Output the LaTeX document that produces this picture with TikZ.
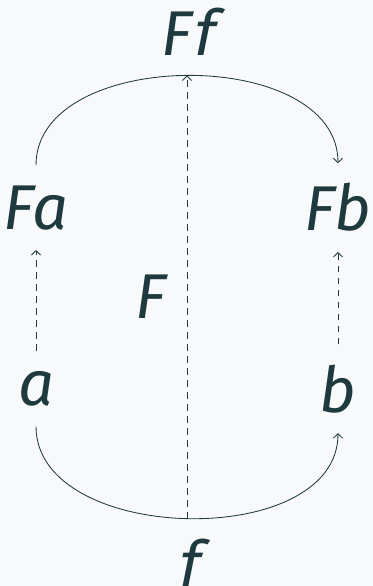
\documentclass[tikz,border=0pt]{standalone}
\usepackage{fontspec}
\setmainfont{Fira Sans}
\newfontfamily\slantfira{Fira Sans}[FakeSlant=0.2]
\newcommand{\fsym}{{\slantfira\upshape f}}
\usetikzlibrary{arrows.meta}
\definecolor{ink}{HTML}{1E3A3F}
\definecolor{paper}{HTML}{F8F9FA}

\begin{document}
\begin{tikzpicture}[
	>={Straight Barb[length=1.1mm,width=2.3mm]},
	every node/.style={font=\fontsize{45}{54}\selectfont\itshape, text=ink, inner sep=0.5cm},
	arr/.style={->, draw=ink, line width=0.6pt},
	dasharr/.style={arr, dash pattern=on 0.17cm off 0.13cm}
	]
	\useasboundingbox[fill=paper] (0,0) rectangle (9.325,14.65);
	
	%--- objects ---
	\node (Fa) at (0.9,9.46) {Fa};
	\node (Fb) at (8.45,9.46) {Fb};
	\node (a) at (0.9,4.93) {a};
	\node (b) at (8.45,4.93) {b};
	
	%--- the two morphisms ---
	\draw[arr] (Fa) to[out=90, in=90, looseness=1]
		coordinate[midway] (Ffmid) node[midway, above] (Ff) {F\fsym} (Fb);
	\draw[arr] (a) to[out=-90, in=-90, looseness=1]
		coordinate[midway] (fmid) node[midway, below] (f) {\fsym} (b);
	
	%--- action of the functor ---
	\draw[dasharr] (a) -- (Fa);
	\draw[dasharr] (b) -- (Fb);
	\draw[dasharr] (fmid) -- node[left] (F) {F} (Ffmid);
	
\end{tikzpicture}
\end{document}
